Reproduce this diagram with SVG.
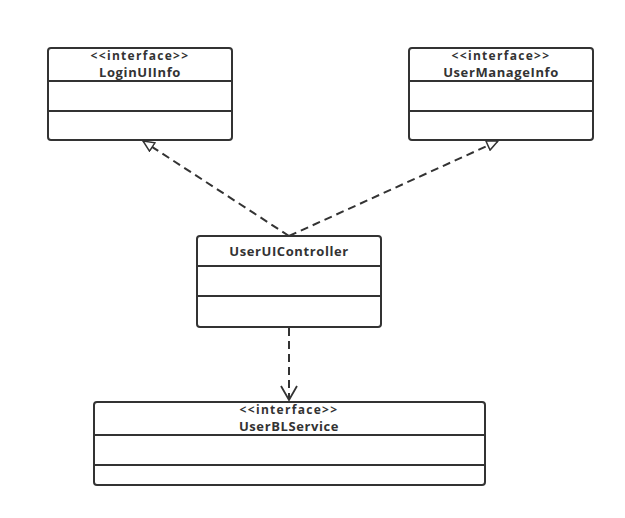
<svg xmlns="http://www.w3.org/2000/svg" width="625" height="518" viewBox="0 0 625 518">
<style>
.box{fill:#fff;stroke:#333;stroke-width:2}
.div{stroke:#333;stroke-width:2}
.t{font-family:"Open Sans","DejaVu Sans",sans-serif;font-weight:bold;font-size:13px;letter-spacing:0.6px;fill:#333;text-anchor:middle}
.s{font-size:12px;letter-spacing:1.3px}
.c{fill:none;stroke:#333;stroke-width:2;stroke-dasharray:8,5}
</style>
<defs>
<marker id="tri" markerWidth="14" markerHeight="12" refX="12" refY="6" orient="auto" markerUnits="userSpaceOnUse">
<path d="M1,1 L12,6 L1,11 Z" fill="#fff" stroke="#333" stroke-width="1.5"/>
</marker>
<marker id="open" markerWidth="18" markerHeight="18" refX="15" refY="9" orient="auto" markerUnits="userSpaceOnUse">
<path d="M1,1 L15,9 L1,17" fill="none" stroke="#333" stroke-width="1.8"/>
</marker>
</defs>
<rect width="625" height="518" fill="#fff"/>
<g id="connectors">
<path class="c" d="M289,236 L143,141" marker-end="url(#tri)"/>
<path class="c" d="M289,236 L498,141" marker-end="url(#tri)"/>
<path class="c" d="M289,328 L289,400" marker-end="url(#open)"/>
</g>
<g id="LoginUIInfo">
<rect class="box" x="48" y="48" width="184" height="92" rx="3"/>
<line class="div" x1="48" y1="81" x2="232" y2="81"/>
<line class="div" x1="48" y1="111" x2="232" y2="111"/>
<text class="t s" x="140" y="60">&lt;&lt;interface&gt;&gt;</text>
<text class="t" x="140" y="77">LoginUIInfo</text>
</g>
<g id="UserManageInfo">
<rect class="box" x="409" y="48" width="184" height="92" rx="3"/>
<line class="div" x1="409" y1="81" x2="593" y2="81"/>
<line class="div" x1="409" y1="111" x2="593" y2="111"/>
<text class="t s" x="501" y="60">&lt;&lt;interface&gt;&gt;</text>
<text class="t" x="501" y="77">UserManageInfo</text>
</g>
<g id="UserUIController">
<rect class="box" x="197" y="236" width="184" height="91" rx="3"/>
<line class="div" x1="197" y1="266" x2="381" y2="266"/>
<line class="div" x1="197" y1="296" x2="381" y2="296"/>
<text class="t" x="289" y="256">UserUIController</text>
</g>
<g id="UserBLService">
<rect class="box" x="94" y="402" width="391" height="83" rx="3"/>
<line class="div" x1="94" y1="435" x2="485" y2="435"/>
<line class="div" x1="94" y1="465" x2="485" y2="465"/>
<text class="t s" x="289" y="414">&lt;&lt;interface&gt;&gt;</text>
<text class="t" x="289" y="431">UserBLService</text>
</g>
</svg>
